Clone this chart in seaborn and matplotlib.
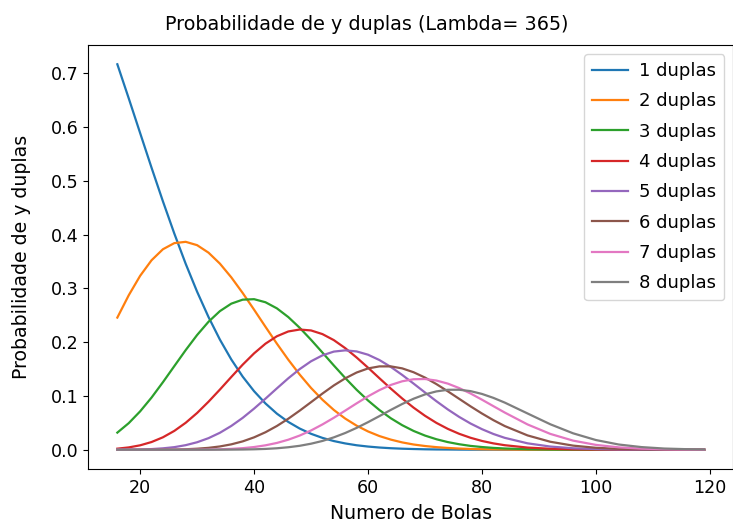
import numpy as np
import pandas as pd
import seaborn as sns
import matplotlib
matplotlib.use("Agg")
import matplotlib.pyplot as plt

# numero de bolas (eixo x)
bolas = [16, 18, 20, 22, 24, 26, 28, 30, 32, 34, 36, 38, 40, 42, 44, 46, 48, 50,
         52, 54, 56, 58, 60, 62, 64, 66, 68, 70, 72, 74, 76, 78, 80, 82, 84,
         88, 92, 96, 100, 104, 108, 112, 116, 119]

p1 = [0.7164, 0.6531, 0.5886, 0.5243, 0.4617, 0.4018, 0.3455, 0.2937, 0.2467, 0.2047,
      0.1678, 0.1359, 0.1088, 0.0860, 0.0671, 0.0517, 0.0394, 0.0296, 0.0220, 0.0161,
      0.0117, 0.0083, 0.0059, 0.0041, 0.0028, 0.0019, 0.0013, 0.0008, 0.0005, 0.0004,
      0.0002, 0.0001, 0.0001, 0.0001, 0.0000, 0.0, 0.0, 0.0, 0.0, 0.0, 0.0, 0.0, 0.0, 0.0]
p2 = [0.2456, 0.2871, 0.3232, 0.3521, 0.3726, 0.3840, 0.3864, 0.3802, 0.3663, 0.3459,
      0.3204, 0.2913, 0.2603, 0.2285, 0.1972, 0.1674, 0.1398, 0.1148, 0.0929, 0.0739,
      0.0579, 0.0447, 0.0340, 0.0254, 0.0188, 0.0136, 0.0097, 0.0069, 0.0048, 0.0033,
      0.0022, 0.0014, 0.0009, 0.0006, 0.0004, 0.0001, 0.0001, 0.0, 0.0, 0.0, 0.0, 0.0, 0.0, 0.0]
p3 = [0.0318, 0.0494, 0.0713, 0.0969, 0.1255, 0.1554, 0.1852, 0.2132, 0.2378, 0.2576,
      0.2715, 0.2789, 0.2798, 0.2741, 0.2628, 0.2466, 0.2267, 0.2043, 0.1806, 0.1566,
      0.1333, 0.1114, 0.0915, 0.0738, 0.0585, 0.0456, 0.0349, 0.0263, 0.0195, 0.0142,
      0.0102, 0.0071, 0.0050, 0.0034, 0.0023, 0.0010, 0.0004, 0.0001, 0.0001, 0.0,
      0.0, 0.0, 0.0, 0.0]
p4 = [0.0020, 0.0043, 0.0082, 0.0143, 0.0231, 0.0350, 0.0501, 0.0683, 0.0892, 0.1118,
      0.1352, 0.1581, 0.1791, 0.1971, 0.2109, 0.2198, 0.2234, 0.2217, 0.2149, 0.2037,
      0.1888, 0.1714, 0.1525, 0.1329, 0.1136, 0.0952, 0.0782, 0.0631, 0.0499, 0.0388,
      0.0296, 0.0222, 0.0163, 0.0118, 0.0084, 0.0040, 0.0018, 0.0007, 0.0003, 0.0001,
      0.0, 0.0, 0.0, 0.0]
p5 = [0.0001, 0.0002, 0.0005, 0.0012, 0.0026, 0.0048, 0.0085, 0.0139, 0.0215, 0.0315,
      0.0442, 0.0592, 0.0764, 0.0949, 0.1140, 0.1327, 0.1498, 0.1644, 0.1754, 0.1824,
      0.1847, 0.1827, 0.1766, 0.1667, 0.1539, 0.1390, 0.1229, 0.1064, 0.0902, 0.0749,
      0.0610, 0.0487, 0.0382, 0.0293, 0.0221, 0.0119, 0.0059, 0.0027, 0.0012, 0.0005,
      0.0002, 0.0001, 0.0, 0.0]
p6 = [0.0, 0.0, 0.0, 0.0001, 0.0002, 0.0004, 0.0009, 0.0019, 0.0035, 0.0061,
      0.0100, 0.0155, 0.0230, 0.0325, 0.0441, 0.0576, 0.0726, 0.0884, 0.1044, 0.1195,
      0.1327, 0.1435, 0.1511, 0.1549, 0.1549, 0.1512, 0.1440, 0.1341, 0.1220, 0.1086,
      0.0946, 0.0806, 0.0673, 0.0550, 0.0440, 0.0266, 0.0148, 0.0076, 0.0036, 0.0016,
      0.0007, 0.0002, 0.0001, 0.0]
p7 = [0.0, 0.0, 0.0, 0.0, 0.0, 0.0, 0.0001, 0.0002, 0.0004, 0.0008,
      0.0016, 0.0029, 0.0050, 0.0082, 0.0126, 0.0186, 0.0263, 0.0358, 0.0470, 0.0594,
      0.0727, 0.0862, 0.0992, 0.1108, 0.1204, 0.1272, 0.1310, 0.1314, 0.1286, 0.1229,
      0.1146, 0.1045, 0.0930, 0.0810, 0.0691, 0.0470, 0.0294, 0.0169, 0.0090, 0.0044,
      0.0020, 0.0008, 0.0003, 0.0001]
p8 = [0.0, 0.0, 0.0, 0.0, 0.0, 0.0, 0.0, 0.0, 0.0, 0.0001,
      0.0002, 0.0004, 0.0008, 0.0015, 0.0027, 0.0046, 0.0073, 0.0112, 0.0163, 0.0230,
      0.0311, 0.0406, 0.0512, 0.0625, 0.0740, 0.0850, 0.0948, 0.1028, 0.1084, 0.1114,
      0.1115, 0.1089, 0.1037, 0.0964, 0.0876, 0.0674, 0.0473, 0.0305, 0.0180, 0.0097,
      0.0049, 0.0022, 0.0010, 0.0005]

series = [p1, p2, p3, p4, p5, p6, p7, p8]
labels = [f"{i} duplas" for i in range(1, 9)]

rows = []
for lab, vals in zip(labels, series):
    for n, p in zip(bolas, vals):
        rows.append({"bolas": n, "prob": p, "serie": lab})
df = pd.DataFrame(rows)

fig = plt.figure(figsize=(7.33, 5.29), dpi=100)
ax = fig.add_axes([88 / 733, 60 / 529, 645.5 / 733, 424 / 529])

sns.lineplot(data=df, x="bolas", y="prob", hue="serie", hue_order=labels,
             palette="tab10", linewidth=1.6, ax=ax)

# titulo centrado na figura, como no original
ax.set_title("Probabilidade de y duplas (Lambda= 365)", fontsize=13.8, pad=11,
             x=(366.5 - 88) / 645.5)
ax.set_xlabel("Numero de Bolas", fontsize=13.6, labelpad=5)
ax.set_ylabel("Probabilidade de y duplas", fontsize=13.6, labelpad=14)
ax.set_xticks([20, 40, 60, 80, 100, 120])
ax.set_yticks([0.0, 0.1, 0.2, 0.3, 0.4, 0.5, 0.6, 0.7])
ax.tick_params(labelsize=12.6)
ax.legend(loc="upper right", fontsize=13, title=None, labelspacing=0.68,
          handletextpad=0.6, borderpad=0.45)

fig.savefig("out.png", dpi=100)
